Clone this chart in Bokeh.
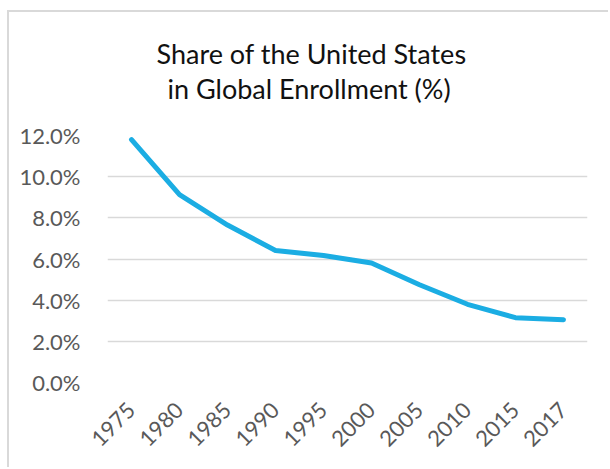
from bokeh.plotting import figure
from bokeh.models import FactorRange, Range1d, FixedTicker, PrintfTickFormatter, Title
from bokeh.embed import file_html
from bokeh.resources import INLINE
from math import pi

years = ["1975", "1980", "1985", "1990", "1995", "2000", "2005", "2010", "2015", "2017"]
share = [11.8, 9.13, 7.65, 6.41, 6.17, 5.81, 4.75, 3.80, 3.15, 3.05]
y_ticks = [0, 2, 4, 6, 8, 10, 12]
title_lines = ["Share of the United States", "in Global Enrollment (%)"]

FONT = "Lato"
GREY = "#595959"

p = figure(width=601, height=457, x_range=FactorRange(*years), y_range=Range1d(0, 12),
           output_backend="svg", toolbar_location=None,
           min_border_left=98, min_border_right=23, min_border_top=123, min_border_bottom=87)
p.outline_line_color = None
p.background_fill_color = "white"
p.border_fill_color = "white"
p.styles = {"margin-left": "7px", "margin-top": "10px",
            "border-top": "2px solid #d9d9d9", "border-left": "2px solid #d9d9d9"}

p.line(x=years, y=share, line_color="#1BADE3", line_width=5, line_join="round", line_cap="round")

p.xgrid.grid_line_color = None
p.ygrid.ticker = FixedTicker(ticks=y_ticks)
p.ygrid.grid_line_color = "#d9d9d9"
p.ygrid.grid_line_width = 1.3

p.yaxis.ticker = FixedTicker(ticks=y_ticks)
p.yaxis.formatter = PrintfTickFormatter(format="%.1f%%")
for ax in (p.xaxis, p.yaxis):
    ax.axis_line_color = None
    ax.major_tick_line_color = None
    ax.minor_tick_line_color = None
    ax.major_label_text_font = FONT
    ax.major_label_text_font_size = "22px"
    ax.major_label_text_color = GREY
p.yaxis.major_label_standoff = 21
p.xaxis.major_label_orientation = pi / 4
p.xaxis.major_label_standoff = 18

# spacer between the title block and the plot area
p.add_layout(Title(text=" ", text_font=FONT, text_font_size="24px", standoff=0), "above")
offsets = [49, 60]
for text, off in reversed(list(zip(title_lines, offsets))):
    p.add_layout(Title(text=text, align="left", offset=off, text_font=FONT,
                       text_font_size="27px", text_font_style="normal",
                       text_color="#111111", standoff=0), "above")

open("out.html", "w").write(file_html(p, INLINE))
